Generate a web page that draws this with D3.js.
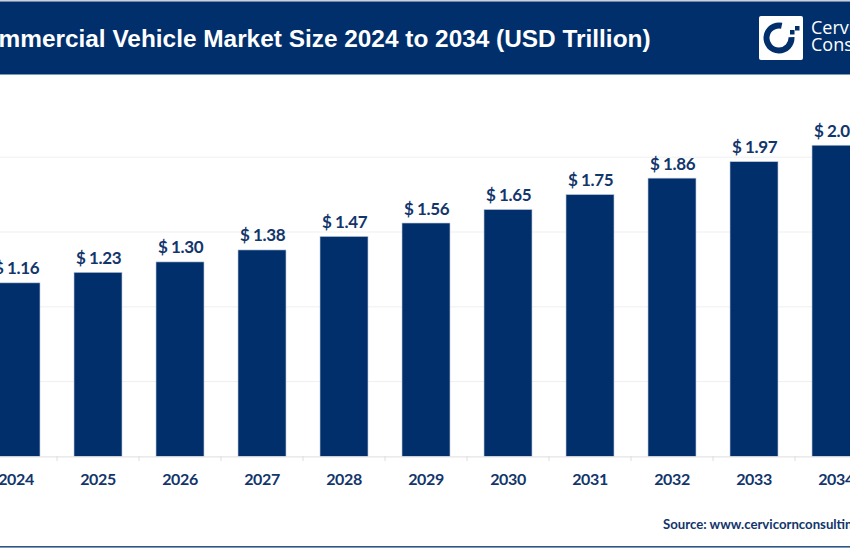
<!DOCTYPE html>
<html><head><meta charset="utf-8">
<script src="https://cdn.jsdelivr.net/npm/d3@7/dist/d3.min.js"></script>
<style>html,body{margin:0;padding:0;background:#fff;overflow:hidden}svg{display:block}</style>
</head><body><svg id="c" width="850" height="550"></svg>
<script>
const years=["2024","2025","2026","2027","2028","2029","2030","2031","2032","2033","2034"];
const values=[1.16,1.23,1.30,1.38,1.47,1.56,1.65,1.75,1.86,1.97,2.08];
const gridValues=[0,0.5,1,1.5,2];
const titleText="Commercial Vehicle Market Size 2024 to 2034 (USD Trillion)";
const sourceText="Source: www.cervicornconsulting.com";
const logoLines=["Cervicorn","Consulting"];
const navy="#002f6c",ink="#12356b";
const svg=d3.select("#c");
const x=d3.scaleBand().domain(years).range([-25,877]).paddingInner(0.415).paddingOuter(0.2075);
const y=d3.scaleLinear().domain([0,2]).range([456.4,157.2]);
svg.append("rect").attr("x",0).attr("y",0).attr("width",850).attr("height",550).attr("fill","#fff");
// header
svg.append("rect").attr("x",0).attr("y",0).attr("width",850).attr("height",1.5).attr("fill","#c9d0da");
svg.append("rect").attr("x",0).attr("y",1.5).attr("width",850).attr("height",73).attr("fill",navy);
svg.append("text").attr("x",-34).attr("y",47).attr("font-family","Liberation Sans").attr("font-weight",700).attr("font-size",24.4).attr("fill","#fff").text(titleText);
// logo
svg.append("rect").attr("x",759).attr("y",16).attr("width",44).attr("height",44).attr("rx",2).attr("fill","#fff");
const arc=d3.arc().innerRadius(9.5).outerRadius(15.5);
svg.append("path").attr("transform","translate(779,38)").attr("fill",navy).attr("d",arc({startAngle:1.5,endAngle:6.5}));
[[790,30,4.5],[795,26,4.5]].forEach(d=>svg.append("rect").attr("x",d[0]).attr("y",d[1]).attr("width",d[2]).attr("height",d[2]).attr("fill",navy));
logoLines.forEach((t,i)=>svg.append("text").attr("x",811).attr("y",34+i*17).attr("font-family","Open Sans").attr("font-size",18).attr("fill","#fff").text(t));
// grid
svg.append("g").selectAll("line").data(gridValues.slice(1)).join("line")
 .attr("x1",0).attr("x2",850).attr("y1",d=>y(d)).attr("y2",d=>y(d)).attr("stroke","#efefef").attr("stroke-width",1);
// bars
svg.append("g").selectAll("rect").data(values).join("rect")
 .attr("x",(d,i)=>x(years[i])).attr("y",d=>y(d)).attr("width",x.bandwidth()).attr("height",d=>y(0)-y(d))
 .attr("fill",navy).attr("stroke","#b9c6d8").attr("stroke-width",0.6);
// x axis
const ax=svg.append("g").attr("transform","translate(0,456.4)").call(d3.axisBottom(x).tickSize(0).tickPadding(17));
ax.select(".domain").attr("stroke","#dedede").attr("stroke-width",1);
ax.selectAll("text").attr("font-family","Lato").attr("font-weight",700).attr("font-size",16).attr("letter-spacing","-0.35px").attr("fill",ink);
svg.append("g").selectAll("line").data(years.slice(1)).join("line")
 .attr("x1",d=>x(d)-x.step()*0.2075).attr("x2",d=>x(d)-x.step()*0.2075).attr("y1",456).attr("y2",461).attr("stroke","#dedede");
// value labels
svg.append("g").selectAll("text").data(values).join("text")
 .attr("x",(d,i)=>x(years[i])+x.bandwidth()/2+0.5).attr("y",d=>y(d)-8.5).attr("text-anchor","middle")
 .attr("font-family","Lato").attr("font-weight",700).attr("font-size",17).attr("letter-spacing","-0.4px").attr("fill",ink)
 .text(d=>"$ "+d.toFixed(2));
// footer
svg.append("text").attr("x",663).attr("y",529).attr("font-family","Lato").attr("font-weight",700).attr("font-size",13.2).attr("fill",ink).text(sourceText);
svg.append("rect").attr("x",0).attr("y",546).attr("width",850).attr("height",1.6).attr("fill","#2f5587");
</script></body></html>
